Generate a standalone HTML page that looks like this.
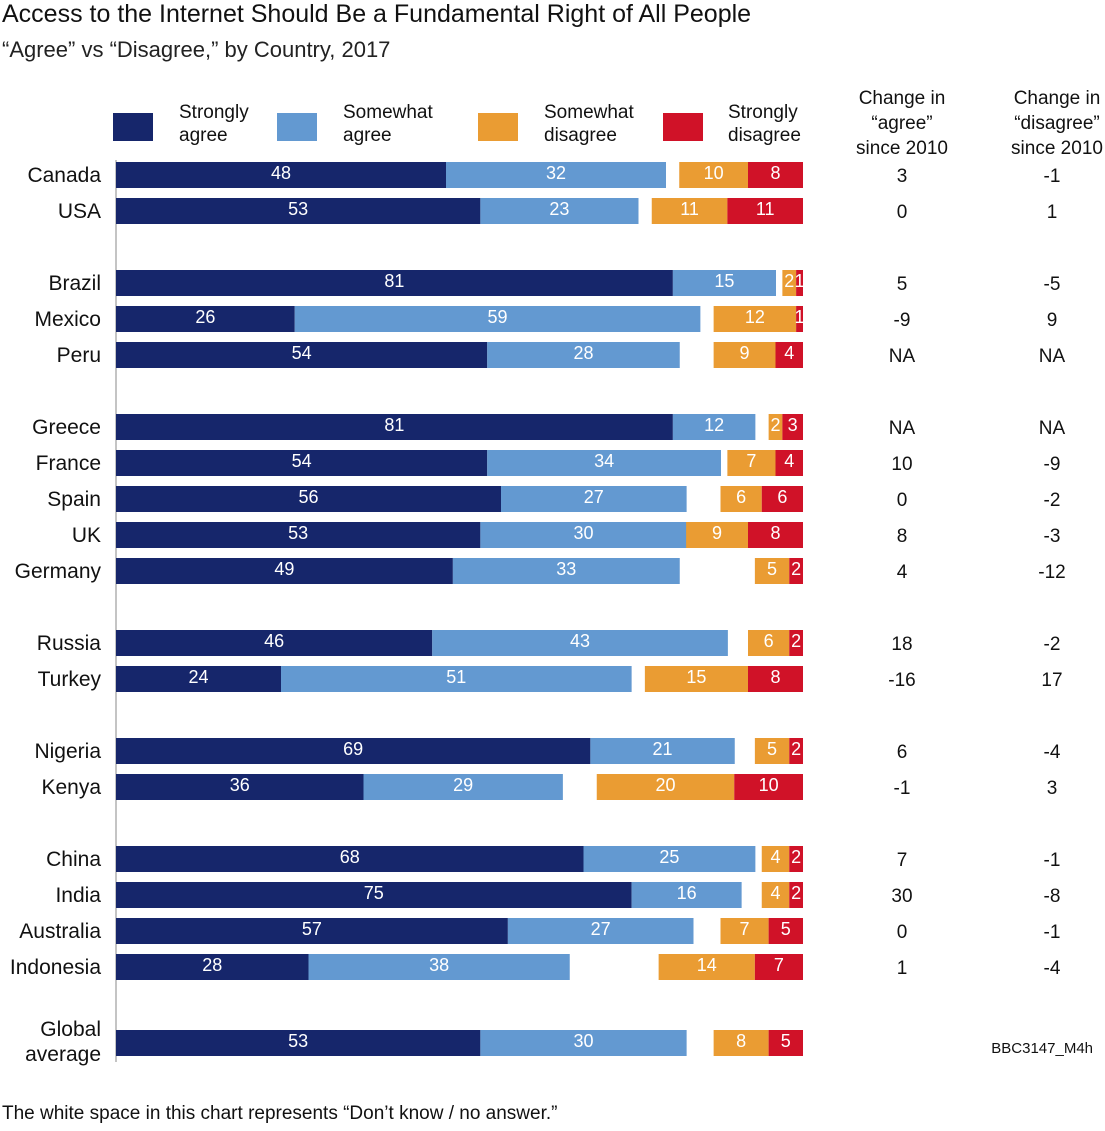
<!DOCTYPE html>
<html><head><meta charset="utf-8"><style>
body{margin:0;background:#fff;font-family:"Liberation Sans",sans-serif;}
svg text{font-family:"Liberation Sans",sans-serif;}
</style></head><body>
<svg id="c" width="1105" height="1126" xmlns="http://www.w3.org/2000/svg">
<text x="2" y="22" font-size="25" fill="#111">Access to the Internet Should Be a Fundamental Right of All People</text>
<text x="2" y="57" font-size="22" fill="#222">“Agree” vs “Disagree,” by Country, 2017</text>
<g>
<rect x="113" y="113" width="40" height="28" fill="#16266b"/>
<text x="179" y="118" font-size="19" fill="#111"><tspan x="179" dy="0">Strongly</tspan><tspan x="179" dy="23">agree</tspan></text>
<rect x="277" y="113" width="40" height="28" fill="#6399d1"/>
<text x="343" y="118" font-size="19" fill="#111"><tspan x="343" dy="0">Somewhat</tspan><tspan x="343" dy="23">agree</tspan></text>
<rect x="478" y="113" width="40" height="28" fill="#ea9c33"/>
<text x="544" y="118" font-size="19" fill="#111"><tspan x="544" dy="0">Somewhat</tspan><tspan x="544" dy="23">disagree</tspan></text>
<rect x="663" y="113" width="40" height="28" fill="#d01228"/>
<text x="728" y="118" font-size="19" fill="#111"><tspan x="728" dy="0">Strongly</tspan><tspan x="728" dy="23">disagree</tspan></text>
</g>
<text x="902" y="104" font-size="19" fill="#111" text-anchor="middle"><tspan x="902" dy="0">Change in</tspan><tspan x="902" dy="25">“agree”</tspan><tspan x="902" dy="25">since 2010</tspan></text>
<text x="1057" y="104" font-size="19" fill="#111" text-anchor="middle"><tspan x="1057" dy="0">Change in</tspan><tspan x="1057" dy="25">“disagree”</tspan><tspan x="1057" dy="25">since 2010</tspan></text>
<line x1="116" y1="160" x2="116" y2="1062" stroke="#888" stroke-width="1"/>
<text x="1093" y="1053" font-size="15" fill="#111" text-anchor="end">BBC3147_M4h</text>
<text x="2" y="1119" font-size="19" fill="#111">The white space in this chart represents “Don’t know / no answer.”</text>
<g id="bars"></g>
</svg>
<script>
const countries=["Canada","USA","Brazil","Mexico","Peru","Greece","France","Spain","UK","Germany","Russia","Turkey","Nigeria","Kenya","China","India","Australia","Indonesia","Global average"];
const groups=[0,0,1,1,1,2,2,2,2,2,3,3,4,4,5,5,5,5,6];
const stronglyAgree=[48,53,81,26,54,81,54,56,53,49,46,24,69,36,68,75,57,28,53];
const somewhatAgree=[32,23,15,59,28,12,34,27,30,33,43,51,21,29,25,16,27,38,30];
const somewhatDisagree=[10,11,2,12,9,2,7,6,9,5,6,15,5,20,4,4,7,14,8];
const stronglyDisagree=[8,11,1,1,4,3,4,6,8,2,2,8,2,10,2,2,5,7,5];
const agreeChange=["3","0","5","-9","NA","NA","10","0","8","4","18","-16","6","-1","7","30","0","1",""];
const disagreeChange=["-1","1","-5","9","NA","NA","-9","-2","-3","-12","-2","17","-4","3","-1","-8","-1","-4",""];
const X0=116,X1=803,K=6.875;
const xs=v=>v*K;
const rowY=i=>175+i*36+groups[i]*36+(i===18?4:0);
const g=document.getElementById('bars');
const NS="http://www.w3.org/2000/svg";
function mk(tag,attrs,txt){const e=document.createElementNS(NS,tag);for(const k in attrs)e.setAttribute(k,attrs[k]);if(txt!==undefined)e.textContent=txt;g.appendChild(e);return e;}
const cols=["#16266b","#6399d1","#ea9c33","#d01228"];
countries.forEach((c,i)=>{
 const y=rowY(i);
 if(c==="Global average"){
  const t=mk('text',{x:101,y:y-7,'font-size':21,fill:'#111','text-anchor':'end'});
  t.innerHTML='<tspan x="101" dy="0">Global</tspan><tspan x="101" dy="25">average</tspan>';
  
  
 } else {
  const t=mk('text',{x:101,y:y+7,'font-size':21,fill:'#111','text-anchor':'end'},c);
  
  
 }
 const segs=[[X0,stronglyAgree[i],0],[X0+xs(stronglyAgree[i]),somewhatAgree[i],1],
  [X1-xs(stronglyDisagree[i]+somewhatDisagree[i]),somewhatDisagree[i],2],[X1-xs(stronglyDisagree[i]),stronglyDisagree[i],3]];
 const names=['strongly-agree','somewhat-agree','somewhat-disagree','strongly-disagree'];
 segs.forEach(([x,v,k])=>{
  const r=mk('rect',{x:x,y:y-13,width:xs(v),height:26,fill:cols[k]});
  
  
  const l=mk('text',{x:x+xs(v)/2,y:y+4,'font-size':18,fill:'#fff','text-anchor':'middle'},String(v));
  
  
 });
 if(agreeChange[i]!==""){
  const a=mk('text',{x:902,y:y+7,'font-size':19,fill:'#111','text-anchor':'middle'},agreeChange[i]);
  
  
  const d=mk('text',{x:1052,y:y+7,'font-size':19,fill:'#111','text-anchor':'middle'},disagreeChange[i]);
  
  
 }
});
</script>
</body></html>
